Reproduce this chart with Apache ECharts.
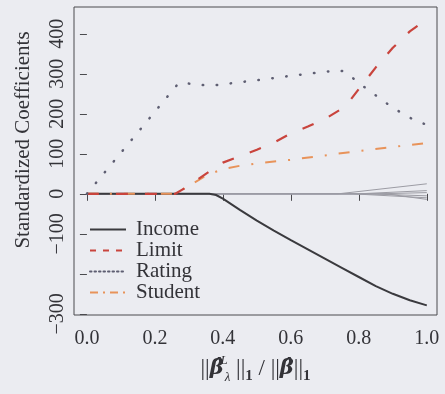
<!DOCTYPE html>
<html><head><meta charset="utf-8">
<script src="https://cdn.jsdelivr.net/npm/echarts@6/dist/echarts.min.js"></script>
<style>html,body{margin:0;padding:0;background:#ebecf1}#c{width:445px;height:394px}</style>
</head><body><div id="c"></div>
<script>
// ---- data ----
const xTicks = [0, 0.2, 0.4, 0.6, 0.8, 1.0];
const yTicks = [-300, -200, -100, 0, 100, 200, 300, 400];
const yTickLabels = [-300, -100, 0, 100, 200, 300, 400];

const incomeX = [0, 0.36, 0.38, 0.4, 0.45, 0.5, 0.55, 0.6, 0.65, 0.7, 0.75, 0.8, 0.85, 0.9, 0.95, 1.0];
const incomeY = [0, 0, -3, -12, -40, -67, -92, -116, -139, -162, -185, -208, -231, -250, -266, -279];

const limitX = [0, 0.26, 0.3, 0.35, 0.4, 0.45, 0.5, 0.55, 0.6, 0.65, 0.7, 0.76, 0.8, 0.85, 0.9, 0.95, 1.0];
const limitY = [0, 0, 20, 50, 78, 94, 110, 128, 151, 168, 187, 218, 262, 316, 365, 406, 437];

const ratingX = [0, 0.27, 0.31, 0.35, 0.39, 0.43, 0.5, 0.6, 0.7, 0.74, 0.76, 0.8, 0.85, 0.9, 0.95, 1.0];
const ratingY = [0, 277, 275, 271, 272, 277, 284, 295, 305, 309, 305, 277, 246, 215, 190, 172];

const studentX = [0, 0.26, 0.3, 0.35, 0.4, 0.45, 0.5, 0.6, 0.7, 0.8, 0.9, 1.0];
const studentY = [0, 0, 20, 45, 62, 70, 76, 85, 96, 107, 117, 127];

const otherNames = ['Cards', 'Age', 'Education', 'Gender', 'Married', 'Ethnicity'];
const otherKnotX = [0.74, 0.78, 0.86, 0.82, 0.80, 0.88];
const otherEndY = [25, -10, 3, -5, 8, -14];

// ---- chart ----
const zip = (xs, ys) => xs.map((x, i) => [x, ys[i]]);
const FONT = 'Liberation Serif';
const INK = '#333338';

const series = [];
otherNames.forEach((n, i) => {
  series.push({
    name: n, type: 'line', symbol: 'none', silent: true,
    data: zip([0, otherKnotX[i], 1.0], [0, 0, otherEndY[i]]),
    lineStyle: { color: '#9c9ca4', width: 1 }, z: 1
  });
});
series.push({
  name: 'Income', type: 'line', symbol: 'none', data: zip(incomeX, incomeY),
  lineStyle: { color: '#3a3a3e', width: 2 }, itemStyle: { color: '#3a3a3e' }, z: 3
});
series.push({
  name: 'Student', type: 'line', symbol: 'none', data: zip(studentX, studentY),
  lineStyle: { color: '#e8935a', width: 2, type: [11, 12, 2, 12] }, itemStyle: { color: '#e8935a' }, z: 4
});
series.push({
  name: 'Limit', type: 'line', symbol: 'none', data: zip(limitX, limitY),
  lineStyle: { color: '#c9443d', width: 2.2, type: [12, 17] }, itemStyle: { color: '#c9443d' }, z: 5
});
series.push({
  name: 'Rating', type: 'line', symbol: 'none', data: zip(ratingX, ratingY),
  lineStyle: { color: '#5e5e72', width: 2.5, type: [0.5, 13.5], cap: 'round' }, itemStyle: { color: '#5e5e72' }, z: 6
});

const hidden = { opacity: 0 };
const chart = echarts.init(document.getElementById('c'), null, { renderer: 'canvas' });
chart.setOption({
  backgroundColor: '#ebecf1',
  animation: false,
  grid: { left: 74, right: 8, top: 7, bottom: 79, show: true, borderColor: '#4a4a4e', borderWidth: 1, backgroundColor: 'transparent' },
  legend: {
    orient: 'vertical', left: 89, top: 219, padding: 0, itemGap: 0,
    itemWidth: 36, itemHeight: 21,
    itemStyle: hidden,
    textStyle: { fontFamily: FONT, fontSize: 21, color: INK, padding: [0, 0, 0, 5], lineHeight: 21 },
    data: [
      { name: 'Income', itemStyle: hidden, lineStyle: { type: 'solid', width: 2 } },
      { name: 'Limit', itemStyle: hidden, lineStyle: { type: [6, 7], width: 2 } },
      { name: 'Rating', itemStyle: hidden, lineStyle: { type: [1.5, 3], width: 2 } },
      { name: 'Student', itemStyle: hidden, lineStyle: { type: [8, 5, 2, 5], width: 2 } }
    ]
  },
  xAxis: {
    type: 'value', min: -0.038, max: 1.03,
    name: '{n|||}{b|β̂}{sup|L}{sub|λ}{n| ||}{s|1}{n| / ||}{b|β̂}{n|||}{s|1}',
    nameLocation: 'middle', nameGap: 34,
    nameTextStyle: {
      color: INK,
      rich: {
        n: { fontFamily: FONT, fontSize: 23, color: INK, lineHeight: 30 },
        b: { fontFamily: 'DejaVu Serif', fontSize: 21, fontStyle: 'italic', fontWeight: 'bold', color: INK, lineHeight: 30 },
        sup: { fontFamily: FONT, fontSize: 13, fontStyle: 'italic', color: INK, verticalAlign: 'top', width: 1 },
        sub: { fontFamily: FONT, fontSize: 13, fontStyle: 'italic', color: INK, verticalAlign: 'bottom' },
        s: { fontFamily: FONT, fontSize: 15, fontWeight: 'bold', color: INK, verticalAlign: 'bottom' }
      }
    },
    axisLine: { show: false },
    splitLine: { show: false },
    axisTick: { show: true, length: 7, lineStyle: { color: '#4a4a4e' }, customValues: xTicks },
    axisLabel: { fontFamily: FONT, fontSize: 20, color: INK, margin: 14, customValues: xTicks, formatter: v => v.toFixed(1) }
  },
  yAxis: {
    type: 'value', min: -303, max: 467,
    name: 'Standardized Coefficients', nameLocation: 'middle', nameGap: 40,
    nameTextStyle: { fontFamily: FONT, fontSize: 21, color: INK, padding: [0, 0, 0, 42] },
    axisLine: { show: false },
    splitLine: { show: false },
    axisTick: { show: true, length: 7, lineStyle: { color: '#4a4a4e' }, customValues: yTicks },
    axisLabel: { fontFamily: FONT, fontSize: 20, color: INK, rotate: 90, margin: 6, customValues: yTickLabels, formatter: v => (v < 0 ? '\u2212' + Math.abs(v) : String(v)) }
  },
  series: series
});
</script></body></html>
